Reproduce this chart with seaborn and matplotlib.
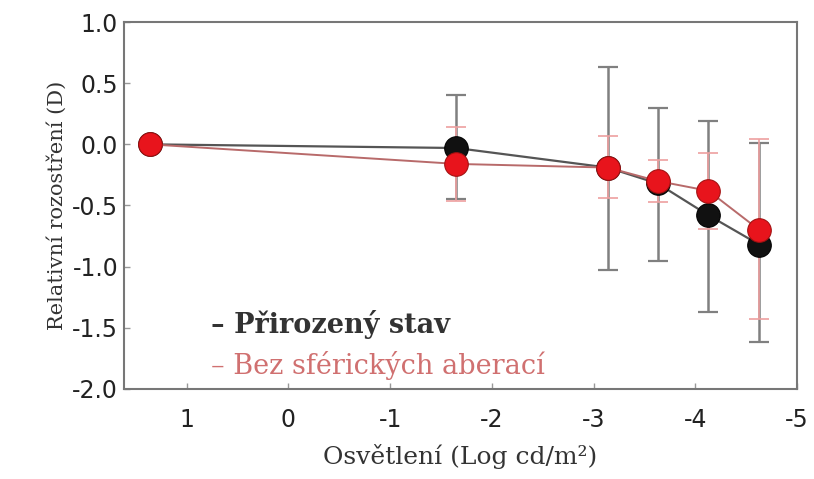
import numpy as np
import pandas as pd
import matplotlib
matplotlib.use("Agg")
import matplotlib.pyplot as plt
import seaborn as sns

# Data
x_vals = [1.36, -1.65, -3.14, -3.63, -4.13, -4.63]
natural_y = [0.0, -0.03, -0.19, -0.32, -0.58, -0.82]
natural_lo = [0.0, -0.45, -1.03, -0.95, -1.37, -1.62]
natural_hi = [0.0, 0.40, 0.63, 0.30, 0.19, 0.01]
nosa_y = [0.0, -0.16, -0.19, -0.30, -0.38, -0.70]
nosa_lo = [0.0, -0.46, -0.44, -0.47, -0.69, -1.43]
nosa_hi = [0.0, 0.14, 0.07, -0.13, -0.07, 0.04]
series_names = ["Přirozený stav", "Bez sférických aberací"]
x_ticks = [1, 0, -1, -2, -3, -4, -5]
y_ticks = [1.0, 0.5, 0.0, -0.5, -1.0, -1.5, -2.0]

sns.set_theme(style="white")
plt.rcParams['font.family'] = ['DejaVu Sans']

df = pd.DataFrame({
    "x": x_vals + x_vals,
    "y": natural_y + nosa_y,
    "s": [series_names[0]] * len(x_vals) + [series_names[1]] * len(x_vals),
})

fig = plt.figure(figsize=(8.14, 4.79), dpi=100)
ax = fig.add_axes([0.152, 0.188, 0.827, 0.766])

# error bars
nat_y = np.array(natural_y)
ax.errorbar(x_vals, natural_y,
            yerr=[nat_y - np.array(natural_lo), np.array(natural_hi) - nat_y],
            fmt='none', ecolor='#808080', elinewidth=1.8, capsize=7, capthick=1.6, zorder=2)
ns_y = np.array(nosa_y)
ax.errorbar(x_vals, nosa_y,
            yerr=[ns_y - np.array(nosa_lo), np.array(nosa_hi) - ns_y],
            fmt='none', ecolor='#eea0a0', elinewidth=1.2, capsize=7, capthick=1.2, zorder=2.5)

# lines
sns.lineplot(data=df[df.s == series_names[0]], x="x", y="y", sort=False, ax=ax,
             color='#555555', linewidth=1.6, marker='o', markersize=17,
             markerfacecolor='#111111', markeredgecolor='#000000', zorder=3, legend=False)
sns.lineplot(data=df[df.s == series_names[1]], x="x", y="y", sort=False, ax=ax,
             color='#b86a6a', linewidth=1.4, marker='o', markersize=17,
             markerfacecolor='#e8141c', markeredgecolor='#a01010', zorder=4, legend=False)

ax.set_xlim(1.62, -5.0)
ax.set_ylim(-2.0, 1.0)
ax.set_xticks(x_ticks)
ax.set_xticklabels([str(t) for t in x_ticks])
ax.set_yticks(y_ticks)
ax.set_yticklabels([f"{t:.1f}" for t in y_ticks])
ax.tick_params(axis='both', labelsize=17, colors='#222222', length=4, width=1,
               direction='in', bottom=True, left=True, color='#999999')
ax.tick_params(axis='x', pad=14)
ax.tick_params(axis='y', pad=4)
for sp in ax.spines.values():
    sp.set_color('#777777')
    sp.set_linewidth(1.5)

ax.set_xlabel("Osvětlení (Log cd/m²)", fontsize=18, family='DejaVu Serif', color='#333333', labelpad=8)
ax.set_ylabel("Relativní rozostření (D)", fontsize=15, family='DejaVu Serif', color='#333333', labelpad=4)

# legend as text
ax.text(0.13, 0.175, "– " + series_names[0], transform=ax.transAxes, fontsize=19.5,
        family='DejaVu Serif', color='#333333', fontweight='bold', va='center')
ax.text(0.13, 0.063, "– " + series_names[1], transform=ax.transAxes, fontsize=19.5,
        family='DejaVu Serif', color='#d07070', va='center')

fig.savefig("out.png", dpi=100)
